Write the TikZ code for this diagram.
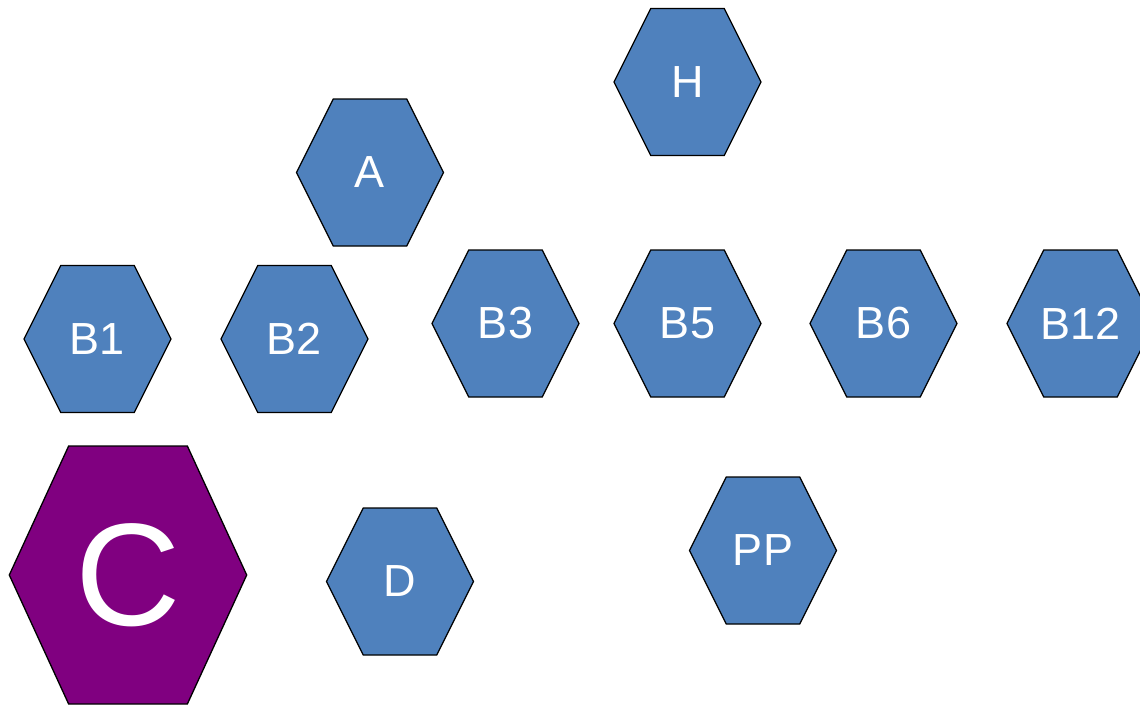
\documentclass[tikz,border=0pt]{standalone}
\usepackage{fontspec}
\setmainfont{Liberation Sans}
\definecolor{hexblue}{HTML}{4F81BD}
\definecolor{hexpurple}{HTML}{800080}
\tikzset{
  hexlabel/.style={text=white, inner sep=0pt, font=\fontsize{45}{54}\selectfont},
  biglabel/.style={text=white, inner sep=0pt, font=\fontsize{146}{170}\selectfont},
  hexedge/.style={draw=black, line width=1.3pt, line join=miter}
}
% #1 name, #2 cx, #3 cy, #4 half width, #5 half height, #6 colour
\newcommand\hexshape[6]{%
  \filldraw[hexedge, fill=#6] ({#2-#4},#3) -- ({#2-#4/2},{#3-#5}) -- ({#2+#4/2},{#3-#5})
    -- ({#2+#4},#3) -- ({#2+#4/2},{#3+#5}) -- ({#2-#4/2},{#3+#5}) -- cycle;
  \coordinate (#1) at (#2,#3);
}
\begin{document}
\begin{tikzpicture}[x=1pt,y=-1pt]
\useasboundingbox (0,0) rectangle (1140,705);
\hexshape{hH}{687.5}{82}{73.5}{73.5}{hexblue}
\hexshape{hA}{370}{172.5}{73.5}{73.5}{hexblue}
\hexshape{hB1}{97.5}{339}{73.5}{73.5}{hexblue}
\hexshape{hB2}{294.5}{339}{73.5}{73.5}{hexblue}
\hexshape{hB3}{505.5}{323.5}{73.5}{73.5}{hexblue}
\hexshape{hB5}{687.5}{323.5}{73.5}{73.5}{hexblue}
\hexshape{hB6}{883.5}{323.5}{73.5}{73.5}{hexblue}
\hexshape{hB12}{1080.5}{323.5}{73.5}{73.5}{hexblue}
\hexshape{hD}{400}{581.5}{73.5}{73.5}{hexblue}
\hexshape{hPP}{763}{550.5}{73.5}{73.5}{hexblue}
\hexshape{hC}{128}{575}{118.7}{129}{hexpurple}
\node[hexlabel] (tH) at (hH) {H};
\node[hexlabel] (tA) at (hA) {A};
\node[hexlabel] (tB1) at (hB1) {B1};
\node[hexlabel] (tB2) at (hB2) {B2};
\node[hexlabel] (tB3) at (hB3) {B3};
\node[hexlabel] (tB5) at (hB5) {B5};
\node[hexlabel] (tB6) at (hB6) {B6};
\node[hexlabel] (tB12) at (hB12) {B12};
\node[hexlabel] (tD) at (hD) {D};
\node[hexlabel] (tPP) at (hPP) {PP};
\node[biglabel] (tC) at (hC) {C};
\end{tikzpicture}
\end{document}
